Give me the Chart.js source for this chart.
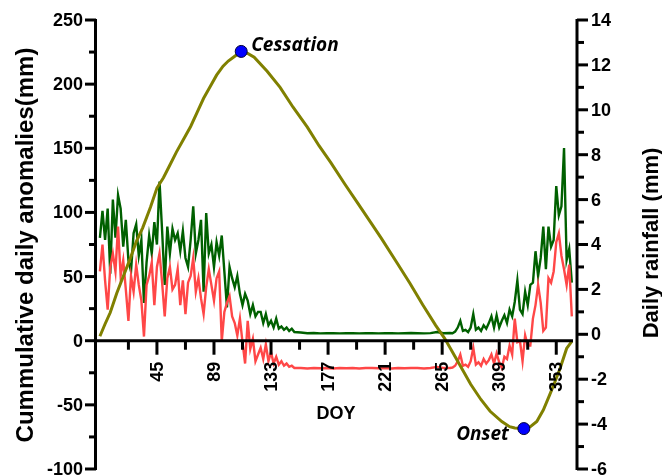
<!DOCTYPE html>
<html>
<head>
<meta charset="utf-8">
<script src="https://cdn.jsdelivr.net/npm/chart.js@4.4.0/dist/chart.umd.min.js"></script>
<style>
  html, body { margin: 0; padding: 0; background: #fff; }
  #wrap { width: 662px; height: 476px; position: relative; }
</style>
</head>
<body>
<div id="wrap"><canvas id="c"></canvas></div>
<script>
// day of year for the two daily series (every 2nd day in the wet seasons, every 5th in the dry season)
const rainDays = [
  1, 3, 5, 7, 9, 11, 13, 15, 17, 19, 21, 23, 25, 27, 29, 31, 33, 35, 37, 39,
  41, 43, 45, 47, 49, 51, 53, 55, 57, 59, 61, 63, 65, 67, 69, 71, 73, 75, 77, 79,
  81, 83, 85, 87, 89, 91, 93, 95, 97, 99, 101, 103, 105, 107, 109, 111, 113, 115, 117, 119,
  121, 123, 125, 127, 129, 131, 133, 135, 137, 139, 141, 143, 145, 147, 149, 151,
  156, 161, 166, 171, 176, 181, 186, 191, 196, 201, 206, 211, 216, 221, 226, 231, 236, 241, 246, 251, 256, 261, 266,
  271, 273, 275, 277, 279, 281, 283, 285, 287, 289, 291, 293, 295, 297, 299, 301, 303, 305, 307, 309,
  311, 313, 315, 317, 319, 321, 323, 325, 327, 329, 331, 333, 335, 337, 339, 341, 343, 345, 347, 349,
  351, 353, 355, 357, 359, 361, 363, 365
];
// daily rainfall (mm), green, right axis
const dailyRain = [
  4.3, 5.5, 4.2, 5.6, 2.7, 6.0, 4.3, 6.2, 5.6, 3.9, 5.1, 3.3, 2.8, 4.5, 4.9, 3.5, 4.2, 1.4, 3.2, 4.4,
  3.6, 5.0, 4.0, 6.8, 4.6, 2.2, 4.8, 3.6, 4.7, 4.2, 4.5, 3.7, 4.6, 3.4, 3.0, 4.2, 5.7, 3.6, 4.2, 5.1,
  1.9, 5.4, 3.6, 4.0, 3.0, 4.1, 3.5, 4.4, 2.8, 1.2, 3.0, 2.5, 2.1, 2.6, 1.8, 1.3, 1.8, 1.5, 0.9, 1.3,
  0.8, 1.0, 1.0, 0.5, 0.9, 0.4, 0.6, 0.3, 0.7, 0.25, 0.35, 0.2, 0.3, 0.15, 0.25, 0.1,
  0.08, 0.05, 0.06, 0.04, 0.05, 0.05, 0.04, 0.05, 0.05, 0.04, 0.05, 0.05, 0.04, 0.05, 0.05, 0.04, 0.05, 0.06, 0.05, 0.04, 0.05, 0.1, 0.05,
  0.06, 0.05, 0.12, 0.3, 0.6, 0.15, 0.2, 0.1, 0.3, 0.9, 0.2, 0.3, 0.15, 0.4, 0.25, 0.5, 0.8, 0.3, 0.85, 0.3,
  0.6, 0.85, 0.5, 1.1, 0.8, 1.45, 2.4, 1.1, 0.9, 1.9, 1.3, 2.2, 2.3, 3.7, 2.6, 3.4, 4.8, 2.9, 4.8, 3.9,
  4.2, 6.6, 5.3, 5.7, 8.3, 3.3, 3.8, 2.3
];
// daily rainfall anomaly (mm), red, right axis
const rainAnomaly = [
  2.8, 4.0, 2.4, 1.1, 3.0, 3.6, 2.8, 4.8, 2.6, 3.3, 2.0, 0.6, 2.6, 1.9, 3.1, 2.2, 1.5, -0.1, 2.2, 2.6,
  3.2, 1.3, 3.0, 3.6, 2.3, 0.8, 2.5, 3.0, 2.0, 2.2, 2.9, 1.3, 2.4, 0.9, 2.3, 2.6, 3.4, 1.9, 2.5, 1.6,
  0.9, 2.1, 2.9, 2.2, 1.5, 2.5, 2.8, -0.3, 1.0, 1.4, 1.7, 0.8, 0.5, -0.05, 0.7, -0.35, -1.3, 0.6, -0.65, -0.2,
  -1.2, -0.9, -0.6, -1.1, -0.45, -1.2, -0.8, -1.3, -1.0, -1.35, -1.2, -1.4, -1.3, -1.45, -1.4, -1.5,
  -1.5, -1.52, -1.5, -1.51, -1.5, -1.52, -1.5, -1.51, -1.5, -1.52, -1.5, -1.5, -1.51, -1.5, -1.52, -1.5, -1.51, -1.5, -1.5, -1.52, -1.5, -1.45, -1.5,
  -1.5, -1.48, -1.4, -1.2, -0.9, -1.4, -1.35, -1.45, -1.2, -0.6, -1.35, -1.25, -1.4, -1.1, -1.3, -1.15, -0.9, -1.3, -0.85, -1.25,
  -1.5, -1.0, -1.1, -0.5, -0.9, 0.7, -0.35, -0.3, -1.2, -0.05, -0.5, -0.5, 0.7, 1.3, 2.2, 1.4, 0.15, 0.3, 2.5, 2.3,
  2.8, 4.1, 4.5, 3.5, 2.9, 2.2, 3.1, 0.8
];
// cumulative daily anomalies (mm), olive, left axis
const cumDays = [
  1, 5, 9, 14, 19, 24, 29, 34, 40, 45, 50, 55, 60, 65, 71, 76, 81, 86, 91, 96, 100, 104, 110,
  115, 120, 130, 140, 150, 161, 170, 179, 190, 200, 210, 218, 230, 240, 250, 260, 267,
  277, 287, 295, 302, 311, 317, 321, 328, 333, 338, 343, 348, 352, 356, 361, 365
];
const cumAnomaly = [
  3.5, 13, 22, 37, 50, 63, 77, 88, 104, 119, 127, 137, 147, 156, 167, 178, 189, 198, 207, 214, 218, 221, 225.5,
  224, 221, 210, 197.5, 182, 166.5, 152, 139, 122, 107, 92, 80, 61, 45, 28, 12, 1.7,
  -16, -34, -46, -55, -63, -67, -68, -68.5, -67, -63, -54, -42, -32, -21.5, -6, -0.5
];
const eventNames = ['Cessation', 'Onset'];
const eventDays = [110, 328];
const eventValues = [225.5, -68.5];

const xMajorTicks = [45, 89, 133, 177, 221, 265, 309, 353];
const xMinorTicks = [23, 67, 111, 155, 199, 243, 287, 331];
const leftTicks = [-100, -50, 0, 50, 100, 150, 200, 250];
const rightTicks = [-6, -4, -2, 0, 2, 4, 6, 8, 10, 12, 14];

const FONT = '"Liberation Sans", Arial, sans-serif';

// Prism-style axes: drawn by hand from the chart's own scales
const axesPlugin = {
  id: 'prismAxes',
  afterDatasetsDraw(chart) {
    const { ctx, chartArea: a, scales } = chart;
    const sx = scales.x, yl = scales.y, yr = scales.y2;
    const y0 = yl.getPixelForValue(0);
    const seg = (x1, y1, x2, y2) => { ctx.beginPath(); ctx.moveTo(x1, y1); ctx.lineTo(x2, y2); ctx.stroke(); };

    ctx.save();
    ctx.strokeStyle = '#000';
    ctx.lineWidth = 3;
    ctx.lineCap = 'butt';
    seg(a.left - 0.5, a.top - 1, a.left - 0.5, a.bottom + 1);
    seg(a.right, a.top - 1, a.right, a.bottom + 1);
    seg(a.left - 2, y0, a.right - 4, y0);

    ctx.fillStyle = '#000';
    ctx.font = 'bold 18px ' + FONT;

    // left axis
    ctx.textAlign = 'right';
    ctx.textBaseline = 'middle';
    leftTicks.forEach((v, i) => {
      const py = yl.getPixelForValue(v);
      seg(a.left - 11, py, a.left, py);
      ctx.fillText(String(v), a.left - 13, py + 1);
      if (i < leftTicks.length - 1) {
        const pm = yl.getPixelForValue((v + leftTicks[i + 1]) / 2);
        seg(a.left - 7, pm, a.left, pm);
      }
    });

    // right axis
    ctx.textAlign = 'left';
    rightTicks.forEach((v, i) => {
      const py = yr.getPixelForValue(v);
      seg(a.right, py, a.right + 11, py);
      ctx.fillText(String(v), a.right + 14, py + 1);
      if (i < rightTicks.length - 1) {
        const pm = yr.getPixelForValue((v + rightTicks[i + 1]) / 2);
        seg(a.right, pm, a.right + 7, pm);
      }
    });

    // x axis at y = 0
    xMinorTicks.forEach(d => {
      const px = sx.getPixelForValue(d);
      seg(px, y0, px, y0 + 9);
    });
    xMajorTicks.forEach(d => {
      const px = sx.getPixelForValue(d);
      seg(px, y0, px, y0 + 14);
      ctx.save();
      ctx.translate(px + 1, y0 + 21);
      ctx.rotate(-Math.PI / 2);
      ctx.textAlign = 'right';
      ctx.textBaseline = 'middle';
      ctx.fillText(String(d), 0, 0);
      ctx.restore();
    });

    ctx.textAlign = 'center';
    ctx.textBaseline = 'middle';
    ctx.fillText('DOY', 336, 414);

    // axis titles
    ctx.font = 'bold 24px ' + FONT;
    ctx.save();
    ctx.translate(26, 245);
    ctx.rotate(-Math.PI / 2);
    ctx.fillText('Cummulative daily anomalies(mm)', 0, 0);
    ctx.restore();
    ctx.font = 'bold 22px ' + FONT;
    ctx.save();
    ctx.translate(652, 243);
    ctx.rotate(-Math.PI / 2);
    ctx.fillText('Daily rainfall (mm)', 0, 0);
    ctx.restore();

    // event labels
    ctx.font = 'italic bold 19px "Open Sans", sans-serif';
    eventNames.forEach((name, i) => {
      const px = sx.getPixelForValue(eventDays[i]);
      const py = yl.getPixelForValue(eventValues[i]);
      if (i === 0) {
        ctx.textAlign = 'left';
        ctx.fillText(name, px + 10, py - 6);
      } else {
        ctx.textAlign = 'right';
        ctx.fillText(name, px - 15, py + 6);
      }
    });
    ctx.restore();
  }
};

const pts = (xs, ys) => xs.map((d, i) => ({ x: d, y: ys[i] }));

new Chart(document.getElementById('c'), {
  type: 'line',
  data: {
    datasets: [
      {
        type: 'scatter',
        label: 'Events',
        data: pts(eventDays, eventValues),
        yAxisID: 'y',
        pointRadius: 6,
        pointBackgroundColor: '#0000ff',
        pointBorderColor: '#00003a',
        pointBorderWidth: 1,
        showLine: false,
        order: 0
      },
      {
        label: 'Cumulative daily anomalies',
        data: pts(cumDays, cumAnomaly),
        yAxisID: 'y',
        borderColor: '#808000',
        borderWidth: 3,
        pointRadius: 0,
        tension: 0,
        order: 1
      },
      {
        label: 'Rainfall anomaly',
        data: pts(rainDays, rainAnomaly),
        yAxisID: 'y2',
        borderColor: '#ff4747',
        borderWidth: 2.4,
        pointRadius: 0,
        tension: 0,
        order: 2
      },
      {
        label: 'Daily rainfall',
        data: pts(rainDays, dailyRain),
        yAxisID: 'y2',
        borderColor: '#006000',
        borderWidth: 2.4,
        pointRadius: 0,
        tension: 0,
        order: 3
      }
    ]
  },
  options: {
    responsive: true,
    maintainAspectRatio: false,
    animation: false,
    layout: { padding: { left: 96, right: 85, top: 20, bottom: 6 } },
    plugins: { legend: { display: false }, tooltip: { enabled: false } },
    scales: {
      x: { type: 'linear', min: -2, max: 369, display: false },
      y: { min: -100, max: 250, display: false },
      y2: { min: -6, max: 14, display: false, position: 'right' }
    }
  },
  plugins: [axesPlugin]
});
</script>
</body>
</html>
